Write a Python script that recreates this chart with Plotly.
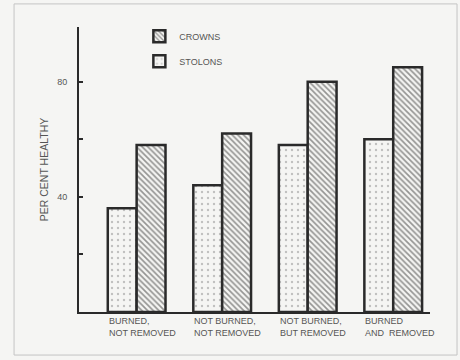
import plotly.graph_objects as go

categories = ["BURNED,<br>NOT REMOVED", "NOT BURNED,<br>NOT REMOVED",
              "NOT BURNED,<br>BUT REMOVED", "BURNED<br>AND  REMOVED"]
stolons = [36, 44, 58, 60]
crowns = [58, 62, 80, 85]
tick_vals = [20, 40, 60, 80]
tick_text = ["", "40", "", "80"]

x_idx = list(range(len(categories)))
FONT = "Liberation Sans, Arial, sans-serif"
GREY = "#555555"
DARK = "#2a2a2a"
BG = "#f5f5f3"

fig = go.Figure()
fig.add_trace(go.Bar(
    x=x_idx, y=stolons, name="STOLONS", legendgroup="s", legendrank=2,
    marker=dict(color=BG, line=dict(color=DARK, width=2.5),
                pattern=dict(shape=".", fgcolor="#8a8a8a", bgcolor=BG,
                             size=6, solidity=0.12)),
))
fig.add_trace(go.Bar(
    x=x_idx, y=crowns, name="CROWNS", legendgroup="c", legendrank=1,
    marker=dict(color=BG, line=dict(color=DARK, width=2.5),
                pattern=dict(shape="\\", fgcolor="#333333", bgcolor=BG,
                             size=4, solidity=0.42)),
))

for i, lab in enumerate(categories):
    fig.add_annotation(x=i, y=0, xref="x", yref="paper", text=lab,
                       showarrow=False, xanchor="left", yanchor="top",
                       align="left", xshift=-30, yshift=-2,
                       font=dict(family=FONT, size=9, color=GREY))

fig.add_shape(type="rect", xref="paper", yref="paper",
              x0=-0.185, x1=1.077, y0=-0.151, y1=1.081,
              line=dict(color="#c4c4c4", width=1), layer="below")

fig.update_layout(
    width=460, height=360,
    margin=dict(l=79, r=30, t=27, b=48),
    paper_bgcolor=BG, plot_bgcolor="rgba(0,0,0,0)",
    barmode="group", bargap=0.325, bargroupgap=0,
    font=dict(family=FONT, size=9, color=GREY),
    showlegend=True,
    legend=dict(x=0.172, y=1.018, xanchor="left", yanchor="top",
                traceorder="grouped", tracegroupgap=6,
                bgcolor="rgba(0,0,0,0)",
                font=dict(family=FONT, size=9, color=GREY)),
    xaxis=dict(range=[-0.674, 3.43], showticklabels=False, ticks="",
               showgrid=False, zeroline=False, showline=True,
               linecolor=DARK, linewidth=2),
    yaxis=dict(range=[0, 99], tickvals=tick_vals, ticktext=tick_text,
               ticks="inside", ticklen=4, tickwidth=2, tickcolor=DARK,
               ticklabelstandoff=8,
               showgrid=False, zeroline=False, showline=True,
               linecolor=DARK, linewidth=2,
               title=dict(text="PER CENT HEALTHY", standoff=7,
                          font=dict(family=FONT, size=10.5, color=GREY))),
)

fig.write_html("out.html", config={"displayModeBar": False},
               post_script="document.body.style.margin='0px';")
